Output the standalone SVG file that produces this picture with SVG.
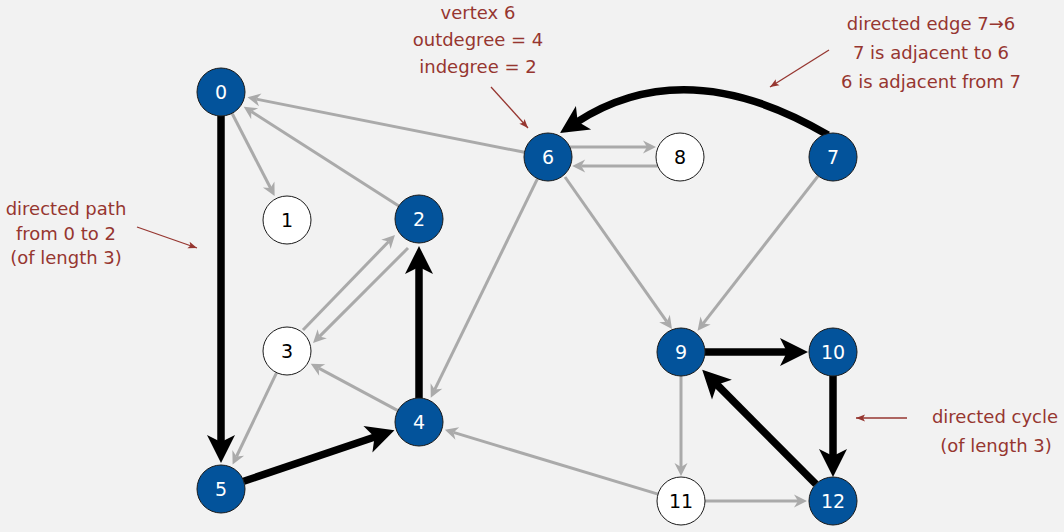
<svg xmlns="http://www.w3.org/2000/svg" width="1064" height="532" viewBox="0 0 1064 532">
<style>
.g{stroke:#aaaaaa;stroke-width:3;fill:none;marker-end:url(#ag)}
.b{stroke:#000;stroke-width:7.5;fill:none;marker-end:url(#ab)}
.n{stroke:#1a1a1a;stroke-width:1}
.blue{fill:#03539b}
.white{fill:#ffffff}
.lbl{font-family:"DejaVu Sans",Verdana,sans-serif;font-size:19px;text-anchor:middle}
.lw{fill:#ffffff}
.lk{fill:#000000}
.ann{font-family:"DejaVu Sans",Verdana,sans-serif;font-size:18px;fill:#963630;text-anchor:middle}
.aa{stroke:#963630;stroke-width:1.3;fill:none;marker-end:url(#aa)}
</style>
<defs>
<marker id="ag" markerUnits="userSpaceOnUse" viewBox="-1 -8 16 16" markerWidth="16" markerHeight="16" refX="4" refY="0" orient="auto">
<path d="M0,-6.5 L13,0 L0,6.5 L4,0 z" fill="#aaaaaa"/>
</marker>
<marker id="ab" markerUnits="userSpaceOnUse" viewBox="-1 -16 31 32" markerWidth="31" markerHeight="32" refX="8" refY="0" orient="auto">
<path d="M0,-14 L28,0 L0,14 L7,0 z" fill="#000"/>
</marker>
<marker id="aa" markerUnits="userSpaceOnUse" viewBox="-1 -5 11 10" markerWidth="11" markerHeight="10" refX="9" refY="0" orient="auto">
<path d="M0,-3.5 L9,0 L0,3.5 L2,0 z" fill="#963630"/>
</marker>
</defs>
<rect x="0" y="0" width="1064" height="532" fill="#f2f2f2"/>
<g id="connectors">
<line class="g" x1="524.5" y1="152.3" x2="256.3" y2="99.1"/>
<line class="g" x1="398.8" y1="206.0" x2="251.3" y2="111.5"/>
<line class="g" x1="232.0" y1="113.3" x2="270.5" y2="188.0"/>
<line class="g" x1="303" y1="330" x2="388.7" y2="241.5"/>
<line class="g" x1="408" y1="248" x2="319.4" y2="336.6"/>
<line class="g" x1="397.9" y1="410.6" x2="318.7" y2="368.1"/>
<line class="g" x1="276.6" y1="372.6" x2="236.5" y2="456.5"/>
<line class="g" x1="537.5" y1="178.6" x2="434.7" y2="389.6"/>
<line class="g" x1="569.8" y1="147" x2="647" y2="147"/>
<line class="g" x1="657.8" y1="166" x2="581.2" y2="166"/>
<line class="g" x1="565" y1="177" x2="666.8" y2="321.7"/>
<line class="g" x1="818.2" y1="175.9" x2="703.1" y2="323.6"/>
<line class="g" x1="681" y1="376" x2="681" y2="467"/>
<line class="g" x1="705" y1="501" x2="798" y2="501"/>
<line class="g" x1="658.0" y1="494.1" x2="453.5" y2="432.4"/>
<line class="b" x1="221" y1="116" x2="221" y2="443"/>
<line class="b" x1="243.7" y1="481.3" x2="375.5" y2="436.7"/>
<line class="b" x1="419" y1="398" x2="419" y2="266"/>
<line class="b" x1="705" y1="352" x2="788" y2="352"/>
<line class="b" x1="833" y1="376" x2="833" y2="457"/>
<line class="b" x1="815.9" y1="484.2" x2="716.3" y2="384"/>
<path class="b" d="M828,135 Q686,51.5 576.8,122.1"/>
<line class="aa" x1="491" y1="87" x2="528" y2="128"/>
<line class="aa" x1="829" y1="50" x2="770" y2="87"/>
<line class="aa" x1="137" y1="227" x2="197" y2="248"/>
<line class="aa" x1="907" y1="418" x2="856" y2="418"/>
</g>
<g id="node0"><circle class="n blue" cx="221" cy="92" r="24"/><text class="lbl lw" x="221" y="99">0</text></g>
<g id="node1"><circle class="n white" cx="287" cy="220" r="24"/><text class="lbl lk" x="287" y="227">1</text></g>
<g id="node2"><circle class="n blue" cx="419" cy="219" r="24"/><text class="lbl lw" x="419" y="226">2</text></g>
<g id="node3"><circle class="n white" cx="287" cy="351" r="24"/><text class="lbl lk" x="287" y="358">3</text></g>
<g id="node4"><circle class="n blue" cx="419" cy="422" r="24"/><text class="lbl lw" x="419" y="429">4</text></g>
<g id="node5"><circle class="n blue" cx="221" cy="489" r="24"/><text class="lbl lw" x="221" y="496">5</text></g>
<g id="node6"><circle class="n blue" cx="548" cy="157" r="24"/><text class="lbl lw" x="548" y="164">6</text></g>
<g id="node7"><circle class="n blue" cx="833" cy="157" r="24"/><text class="lbl lw" x="833" y="164">7</text></g>
<g id="node8"><circle class="n white" cx="680" cy="157" r="24"/><text class="lbl lk" x="680" y="164">8</text></g>
<g id="node9"><circle class="n blue" cx="681" cy="352" r="24"/><text class="lbl lw" x="681" y="359">9</text></g>
<g id="node10"><circle class="n blue" cx="833" cy="352" r="24"/><text class="lbl lw" x="833" y="359">10</text></g>
<g id="node11"><circle class="n white" cx="681" cy="501" r="24"/><text class="lbl lk" x="681" y="508">11</text></g>
<g id="node12"><circle class="n blue" cx="833" cy="501" r="24"/><text class="lbl lw" x="833" y="508">12</text></g>
<g id="annotations">
<text class="ann" x="478" y="19">vertex 6</text>
<text class="ann" x="478" y="46">outdegree = 4</text>
<text class="ann" x="478" y="73">indegree = 2</text>
<text class="ann" x="931" y="30">directed edge 7→6</text>
<text class="ann" x="931" y="59">7 is adjacent to 6</text>
<text class="ann" x="931" y="88">6 is adjacent from 7</text>
<text class="ann" x="66" y="215">directed path</text>
<text class="ann" x="66" y="240">from 0 to 2</text>
<text class="ann" x="66" y="264">(of length 3)</text>
<text class="ann" x="995" y="423">directed cycle</text>
<text class="ann" x="996" y="452">(of length 3)</text>
</g>
</svg>
